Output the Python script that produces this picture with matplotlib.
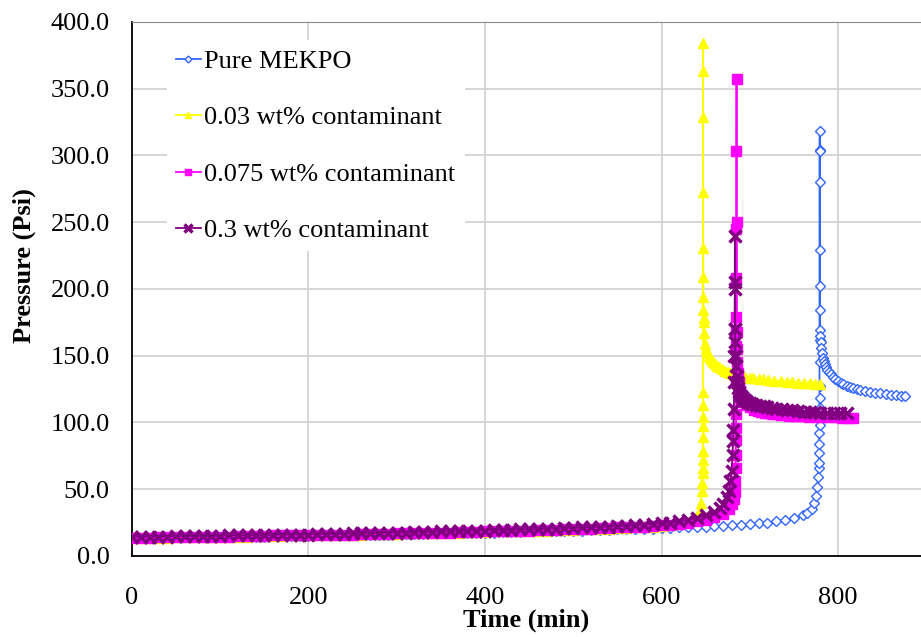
import matplotlib.pyplot as plt
from matplotlib.ticker import FormatStrFormatter

plt.rcParams['font.family'] = ['Liberation Serif', 'DejaVu Serif']

# Pure MEKPO
t_pure = [0, 10, 20, 30, 40, 50, 60, 70, 80, 90, 100, 110, 120, 130, 140, 150, 160, 170, 180, 190,
          200, 210, 220, 230, 240, 250, 260, 270, 280, 290, 300, 310, 320, 330, 340, 350, 360, 370, 380, 390,
          400, 410, 420, 430, 440, 450, 460, 470, 480, 490, 500, 510, 520, 530, 540, 550, 560, 570, 580, 590,
          600, 610, 620, 630, 640, 650, 660, 670, 680, 690, 700, 710, 720, 730, 740, 750, 760, 765, 770,
          773, 775, 776.5, 777.5, 778, 778.2, 778.4, 778.6, 778.8, 779, 779, 779, 779, 779, 779, 779, 779, 779, 779,
          779.3, 779.4, 779.5, 779.6,
          780, 780.5, 781, 782, 783, 784, 785, 786.5, 788, 790, 792, 794.7, 797, 800, 803, 806, 810, 813,
          817, 821, 825, 830, 836, 842, 848, 854, 860, 866, 871, 875.5]
p_pure = [13.5, 13.5, 13.5, 13.5, 14.0, 14.0, 14.0, 14.0, 14.0, 14.0, 14.5, 14.5, 14.5, 14.5, 14.5, 14.5, 15.0, 15.0, 15.0, 15.0,
          15.0, 15.5, 15.5, 15.5, 15.5, 15.5, 16.0, 16.0, 16.0, 16.0, 16.5, 16.5, 16.5, 16.5, 17.0, 17.0, 17.0, 17.0, 17.5, 17.5,
          17.5, 17.5, 18.0, 18.0, 18.0, 18.5, 18.5, 18.5, 18.5, 19.0, 19.0, 19.0, 19.5, 19.5, 19.5, 20.0, 20.0, 20.0, 20.5, 20.5,
          21.0, 21.0, 21.5, 21.5, 22.0, 22.0, 22.5, 22.5, 23.0, 23.5, 24.0, 24.5, 25.0, 26.0, 27.0, 28.5, 30.5, 32.5, 35.5,
          40, 45, 52, 59, 66, 70, 77, 84, 92, 98, 111, 118, 127, 145, 162, 184, 229, 280, 304,
          318, 303, 202, 169,
          165, 160, 156, 152, 148.5, 146, 144, 141.5, 139.5, 137.5, 136, 134, 132.5, 131, 129.7, 128.6, 127.3, 126.5,
          125.6, 124.9, 124.3, 123.6, 123, 122.4, 121.8, 121.3, 120.8, 120.4, 120.1, 119.8]

# 0.03 wt% contaminant
t_003 = [0, 10, 20, 30, 40, 50, 60, 70, 80, 90, 100, 110, 120, 130, 140, 150, 160, 170, 180, 190,
         200, 210, 220, 230, 240, 250, 260, 270, 280, 290, 300, 310, 320, 330, 340, 350, 360, 370, 380, 390,
         400, 410, 420, 430, 440, 450, 460, 470, 480, 490, 500, 510, 520, 530, 540, 550, 560, 570, 580, 590,
         600, 610, 620, 630, 636, 640, 642, 643.6, 644.5, 645.5, 646, 646.5, 646.8, 647, 647, 647, 647, 647, 647, 647,
         647, 647, 647, 647, 647.2, 647.3, 647.4, 647.5, 647.6, 647.8,
         648.5, 649.3, 650.5, 652, 653.5, 655, 657, 658.7, 661, 663, 665, 668, 672, 675, 677.6, 681, 686, 690,
         695, 700, 704, 710, 715, 721, 728, 735, 741.8, 748, 755, 761, 768, 774, 779.6]
p_003 = [13.5, 13.5, 13.5, 13.5, 13.5, 14.0, 14.0, 14.0, 14.0, 14.0, 14.5, 14.5, 14.5, 14.5, 15.0, 15.0, 15.0, 15.0, 15.5, 15.5,
         15.5, 15.5, 15.5, 16.0, 16.0, 16.0, 16.0, 16.5, 16.5, 16.5, 16.5, 17.0, 17.0, 17.0, 17.0, 17.5, 17.5, 17.5, 18.0, 18.0,
         18.0, 18.5, 18.5, 18.5, 18.5, 19.0, 19.0, 19.0, 19.5, 19.5, 19.5, 20.0, 20.0, 20.5, 20.5, 21.0, 21.0, 21.5, 21.5, 22.0,
         22.5, 23.0, 24.0, 25.5, 27.5, 30, 32, 34.5, 40, 49, 55, 62, 66, 72, 79, 89, 97, 104, 113, 123,
         273, 329, 363, 384, 231, 209, 194, 184, 178, 175.5,
         167, 159, 155, 152, 150, 148.5, 146.8, 145.5, 143.8, 142.5, 141.3, 140, 138.5, 137.5, 136.8, 136, 135, 134.5,
         134, 133.4, 133, 132.5, 132.2, 131.8, 131.4, 131, 130.6, 130.2, 129.9, 129.6, 129.3, 129, 128.8]

# 0.075 wt% contaminant
t_0075 = [0, 10, 20, 30, 40, 50, 60, 70, 80, 90, 100, 110, 120, 130, 140, 150, 160, 170, 180, 190,
          200, 210, 220, 230, 240, 250, 260, 270, 280, 290, 300, 310, 320, 330, 340, 350, 360, 370, 380, 390,
          400, 410, 420, 430, 440, 450, 460, 470, 480, 490, 500, 510, 520, 530, 540, 550, 560, 570, 580, 590,
          600, 610, 620, 630, 640, 650, 660, 670, 676, 680, 682, 683, 683.7, 684, 684.2, 684.3, 684.4, 684.5,
          684.6, 684.6, 684.7, 684.7, 684.8, 684.8, 684.9, 685, 685.1, 685.2,
          685.5, 686, 686.7, 687.5, 688.2, 689, 690.5, 692, 694, 697, 700, 705, 709, 713, 717, 720, 725, 730,
          735, 740, 745, 750, 755, 760, 767, 775, 782, 790, 797, 805, 811, 817]
p_0075 = [13.5, 13.5, 13.5, 14.0, 14.0, 14.0, 14.0, 14.5, 14.5, 14.5, 14.5, 14.5, 15.0, 15.0, 15.0, 15.0, 15.5, 15.5, 15.5, 15.5,
          15.5, 16.0, 16.0, 16.0, 16.0, 16.0, 16.5, 16.5, 16.5, 16.5, 17.0, 17.0, 17.0, 17.0, 17.5, 17.5, 17.5, 18.0, 18.0, 18.0,
          18.5, 18.5, 18.5, 19.0, 19.0, 19.0, 19.5, 19.5, 19.5, 20.0, 20.0, 20.5, 20.5, 21.0, 21.0, 21.5, 21.5, 22.0, 22.0, 22.5,
          23.0, 23.5, 24.0, 25.0, 26.0, 27.0, 29, 31.5, 35, 39, 43, 48, 56, 66, 76, 87, 96, 106,
          130, 157, 168, 179, 208, 245, 303, 357, 250, 168,
          155, 145, 137, 130, 126, 123.5, 120, 117.5, 115.5, 113, 111.5, 109.5, 108.6, 108, 107.4, 107, 106.5, 106,
          105.7, 105.5, 105.2, 105, 104.8, 104.5, 104.3, 104.1, 104, 103.9, 103.8, 103.7, 103.6, 103.6]

# 0.3 wt% contaminant
t_03 = [0, 10, 20, 30, 40, 50, 60, 70, 80, 90, 100, 110, 120, 130, 140, 150, 160, 170, 180, 190,
        200, 210, 220, 230, 240, 250, 260, 270, 280, 290, 300, 310, 320, 330, 340, 350, 360, 370, 380, 390,
        400, 410, 420, 430, 440, 450, 460, 470, 480, 490, 500, 510, 520, 530, 540, 550, 560, 570, 580, 590,
        600, 610, 620, 630, 640, 650, 660, 666, 670, 674, 676, 678, 679.5, 680.5, 681, 681.5, 682, 682.3, 682.6,
        682.8, 683, 683.1, 683.3, 683.5, 683.8, 684.2, 684.6, 685, 685.7, 686.5, 687.5, 689, 690.7, 692.7, 695,
        697, 700, 703, 707, 711.6, 716, 720, 725, 730, 736, 742, 748, 755, 761, 768, 774, 780, 787, 795, 802, 810]
p_03 = [14.5, 14.5, 14.5, 14.5, 14.5, 15.0, 15.0, 15.0, 15.0, 15.0, 15.0, 15.5, 15.5, 15.5, 15.5, 15.5, 16.0, 16.0, 16.0, 16.0,
        16.0, 16.5, 16.5, 16.5, 16.5, 17.0, 17.0, 17.0, 17.0, 17.5, 17.5, 17.5, 18.0, 18.0, 18.0, 18.5, 18.5, 18.5, 19.0, 19.0,
        19.0, 19.5, 19.5, 19.5, 20.0, 20.0, 20.0, 20.5, 20.5, 21.0, 21.0, 21.5, 21.5, 22.0, 22.0, 22.5, 22.5, 23.0, 23.5, 24.0,
        24.5, 25.0, 26.0, 27.0, 28.5, 30.5, 33, 36, 39, 44, 49, 56, 64, 76, 86, 94, 110, 130, 150,
        170, 200, 240, 205, 170, 160, 150, 142, 135, 130, 126, 123, 120.5, 119, 117.7, 116.5,
        115.7, 114.8, 114, 113.3, 112.7, 112, 111.5, 110.8, 110.3, 109.8, 109.4, 109, 108.5, 108.1, 107.8, 107.5, 107.3,
        107.1, 107.0, 106.95, 106.9]

fig = plt.figure(figsize=(9.21, 6.37), dpi=100)
ax = fig.add_axes([0.1433, 0.1272, 0.8567, 0.8383])

ax.plot(t_pure, p_pure, color='#3366FF', lw=1.3, marker='D', ms=5, mfc='white', mec='#3366FF', mew=1,
        label='Pure MEKPO', zorder=3)
ax.plot(t_003, p_003, color='#FFFF00', lw=1.3, marker='^', ms=7, mfc='#FFFF00', mec='#FFFF00',
        label='0.03 wt% contaminant', zorder=4)
ax.plot(t_0075, p_0075, color='#FF00FF', lw=1.3, marker='s', ms=6.5, mfc='#FF00FF', mec='#FF00FF',
        label='0.075 wt% contaminant', zorder=5)
ax.plot(t_03, p_03, color='#800080', lw=1.3, marker='x', ms=8, mew=2.5, mec='#800080',
        label='0.3 wt% contaminant', zorder=6)

ax.set_xlim(0, 894)
ax.set_ylim(0, 400)
ax.set_xticks([0, 200, 400, 600, 800])
ax.set_yticks(range(0, 401, 50))
ax.yaxis.set_major_formatter(FormatStrFormatter('%.1f'))
ax.grid(True, color='#D0D0D0', lw=1.2)
ax.set_axisbelow(True)

ax.spines['right'].set_visible(False)
ax.spines['top'].set_color('#8C8C8C')
ax.spines['left'].set_linewidth(1.3)
ax.spines['bottom'].set_linewidth(1.3)
ax.tick_params(axis='both', length=0, labelsize=19)
ax.tick_params(axis='y', pad=16)
ax.tick_params(axis='x', pad=22)

ax.set_xlabel('Time (min)', fontsize=19, fontweight='bold', labelpad=0)
ax.set_ylabel('Pressure (Psi)', fontsize=19, fontweight='bold')
ax.yaxis.set_label_coords(-0.122, 0.543)

leg = ax.legend(loc='upper left', bbox_to_anchor=(0.044, 0.966), fontsize=19, frameon=True,
                facecolor='white', edgecolor='none', framealpha=1, fancybox=False,
                handlelength=0.95, handletextpad=0.12, labelspacing=1.25, numpoints=1,
                markerscale=0.7, borderpad=0.35, borderaxespad=0)
leg.set_zorder(10)

fig.savefig('out.png', dpi=100)
